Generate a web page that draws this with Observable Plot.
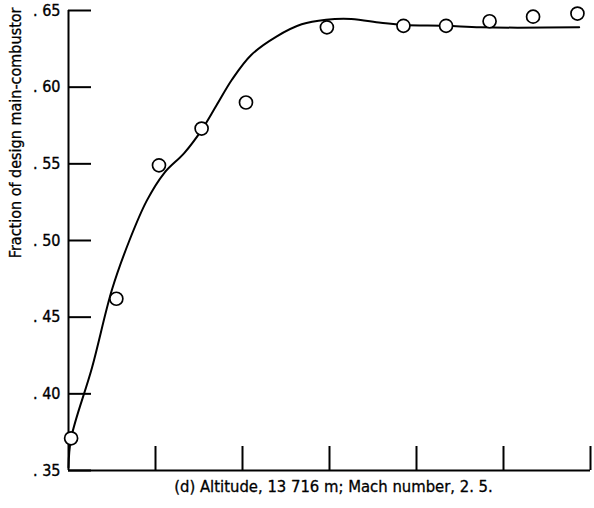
<!DOCTYPE html>
<html>
<head>
<meta charset="utf-8">
<script src="https://cdn.jsdelivr.net/npm/d3@7"></script>
<script src="https://cdn.jsdelivr.net/npm/@observablehq/plot@0.6"></script>
<style>
  html, body { margin: 0; padding: 0; background: #fff; }
  svg { font-family: "DejaVu Sans Condensed", "Liberation Sans Narrow", "Roboto", sans-serif; font-stretch: condensed; }
</style>
</head>
<body>
<div id="chart"></div>
<script>
// ---- data ----
const xTicks = [1, 2, 3, 4, 5, 6];
const yTicks = [0.35, 0.40, 0.45, 0.50, 0.55, 0.60, 0.65];
const yTickLabels = [". 35", ". 40", ". 45", ". 50", ". 55", ". 60", ". 65"];

const pointX = [0.03, 0.55, 1.04, 1.53, 2.04, 2.97, 3.85, 4.34, 4.84, 5.34, 5.85];
const pointY = [0.371, 0.462, 0.549, 0.573, 0.590, 0.639, 0.640, 0.640, 0.643, 0.646, 0.648];

const curveX = [0.00, 0.03, 0.27, 0.50, 0.70, 0.90, 1.10, 1.33, 1.53, 1.70, 1.88, 2.10, 2.39, 2.68, 2.96, 3.25, 3.59, 3.85, 4.34, 4.74, 5.87];
const curveY = [0.352, 0.371, 0.417, 0.468, 0.500, 0.526, 0.544, 0.557, 0.572, 0.588, 0.605, 0.621, 0.633, 0.641, 0.644, 0.6445, 0.642, 0.6405, 0.640, 0.639, 0.639];

const yLabel = "Fraction of design main-combustor";
const caption = "(d) Altitude, 13 716 m; Mach number, 2. 5.";

const points = pointX.map((x, i) => ({x, y: pointY[i]}));
const curve = curveX.map((x, i) => ({x, y: curveY[i]}));

const W = 594, H = 508, mL = 68, mR = 4, mT = 10, mB = 38;
const frameW = W - mL - mR, frameH = H - mT - mB;

const chart = Plot.plot({
  width: W,
  height: H,
  marginLeft: mL,
  marginRight: mR,
  marginTop: mT,
  marginBottom: mB,
  style: {fontSize: "14px", color: "#000", background: "#fff"},
  x: {domain: [0, 6], axis: null},
  y: {domain: [0.35, 0.65], axis: null},
  marks: [
    // spines
    Plot.ruleX([0], {stroke: "#000", strokeWidth: 2}),
    Plot.ruleY([0.35], {stroke: "#000", strokeWidth: 2}),
    // inward ticks
    Plot.tickY(yTicks, {stroke: "#000", strokeWidth: 2, insetRight: frameW - 23}),
    Plot.tickX(xTicks, {stroke: "#000", strokeWidth: 2, insetTop: frameH - 24}),
    // y tick labels
    Plot.text(yTicks, {x: 0, y: d => d, text: (d, i) => yTickLabels[i], textAnchor: "end", dx: -8, fontSize: 16, fill: "#000", stroke: "#000", strokeWidth: 0.35}),
    // y label (rotated)
    Plot.text([yLabel], {frameAnchor: "top-left", rotate: -90, textAnchor: "end", dx: -59, dy: -3, fontSize: 16, fill: "#000", stroke: "#000", strokeWidth: 0.3}),
    // caption
    Plot.text([caption], {frameAnchor: "bottom", dy: 21, dx: 4, fontSize: 16.5, fill: "#000", stroke: "#000", strokeWidth: 0.3}),
    // fitted curve
    Plot.line(curve, {x: "x", y: "y", curve: "catmull-rom", stroke: "#000", strokeWidth: 2}),
    // data points
    Plot.dot(points, {x: "x", y: "y", r: 6.5, fill: "#fff", stroke: "#000", strokeWidth: 1.7})
  ]
});

document.getElementById("chart").appendChild(chart);
</script>
</body>
</html>
